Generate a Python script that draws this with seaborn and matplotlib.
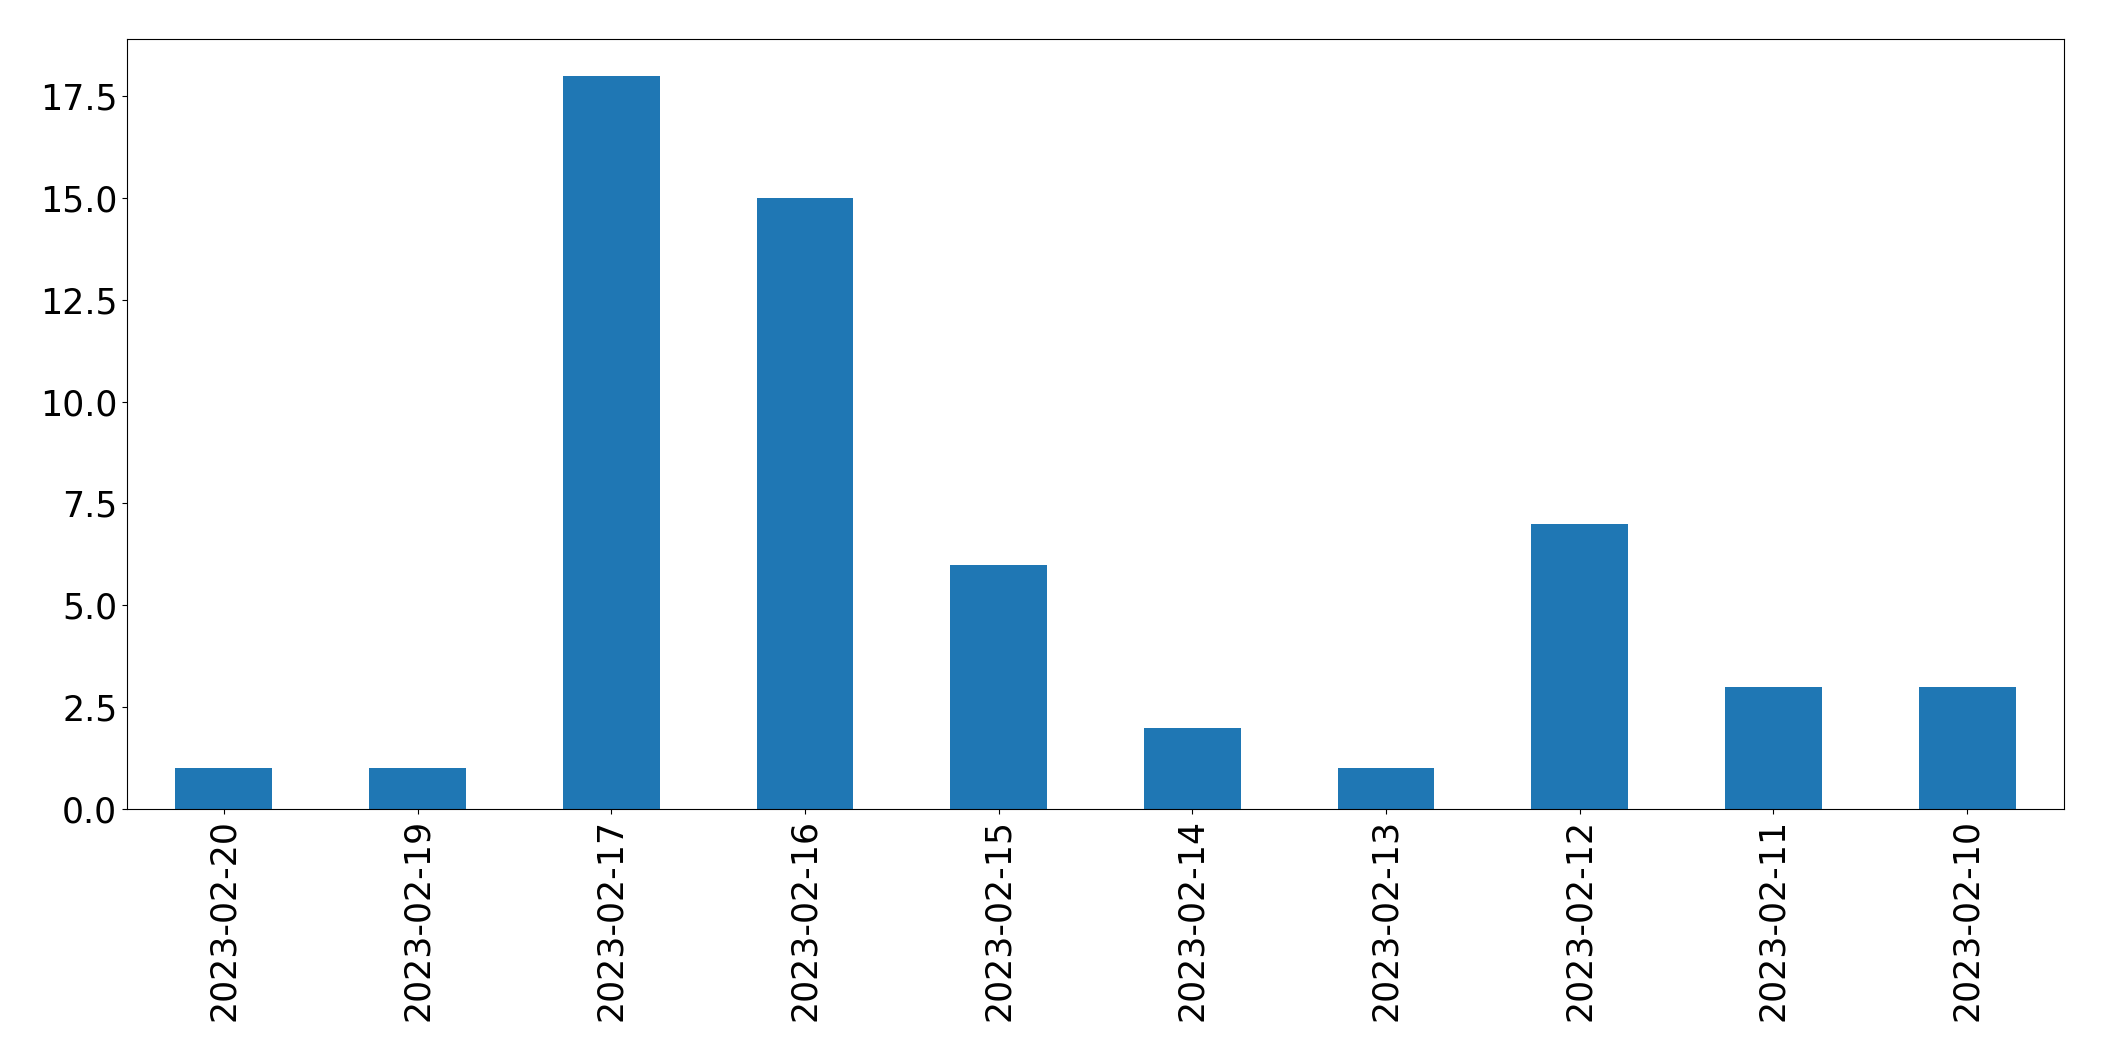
import matplotlib
matplotlib.use("Agg")
import matplotlib.pyplot as plt
import seaborn as sns
import pandas as pd

dates = ["2023-02-20", "2023-02-19", "2023-02-17", "2023-02-16", "2023-02-15",
         "2023-02-14", "2023-02-13", "2023-02-12", "2023-02-11", "2023-02-10"]
counts = [1, 1, 18, 15, 6, 2, 1, 7, 3, 3]

df = pd.DataFrame({"date": dates, "count": counts})

fig = plt.figure(figsize=(21.04, 10.61), dpi=100)
ax = fig.add_axes([127/2104, 1 - 809/1061, (2064-127)/2104, (809-39)/1061])
sns.barplot(data=df, x="date", y="count", order=dates, color="#1f77b4",
            saturation=1, width=0.5, linewidth=0, ax=ax)
ax.set_xlim(-0.5, len(dates) - 0.5)
ax.set_ylim(0, max(counts) * 1.05)
ax.set_xlabel("")
ax.set_ylabel("")
ax.tick_params(axis="both", labelsize=25)
ax.tick_params(axis="x", labelrotation=90)
fig.savefig("out.png", dpi=100)
